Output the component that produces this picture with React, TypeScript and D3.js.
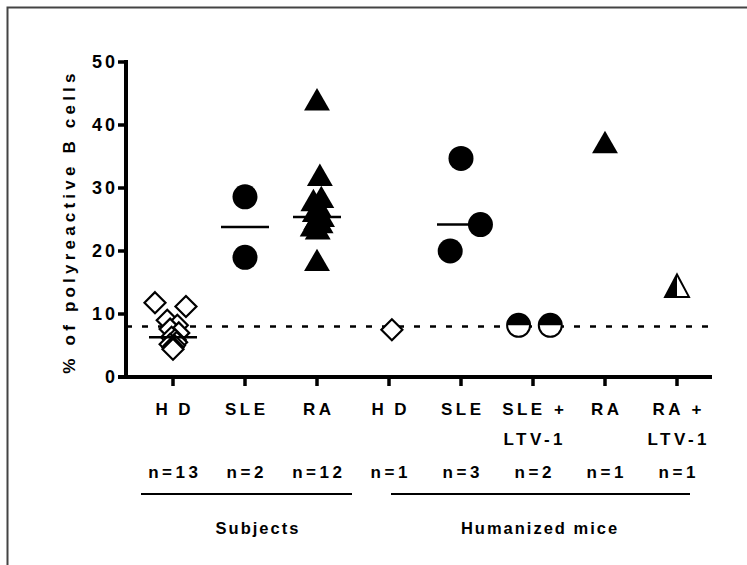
import * as d3 from "d3";
import React from "react";

// category keys, labels and counts
const categoryKeys = ["sHD", "sSLE", "sRA", "mHD", "mSLE", "mSLELTV", "mRA", "mRALTV"];
const labelLine1 = ["H\u2009D", "SLE", "RA", "H\u2009D", "SLE", "SLE +", "RA", "RA +"];
const labelLine2 = ["", "", "", "", "", "LTV-1", "", "LTV-1"];
const nLabels = ["n=13", "n=2", "n=12", "n=1", "n=3", "n=2", "n=1", "n=1"];
const yTicks = [0, 10, 20, 30, 40, 50];

// values per group (% polyreactive B cells)
const hdSubjects = [11.8, 11.2, 9.0, 8.2, 7.6, 7.0, 6.3, 5.9, 5.5, 5.2, 5.0, 4.7, 4.4];
const hdSubjectsJitter = [-0.25, 0.18, -0.08, 0.06, -0.04, 0.08, -0.02, 0.03, 0.05, -0.04, 0.02, 0.0, 0.0];
const sleSubjects = [28.6, 19.0];
const sleSubjectsJitter = [0, 0];
const raSubjects = [43.5, 31.5, 28.0, 27.5, 26.5, 25.8, 25.0, 24.5, 24.0, 23.5, 23.0, 18.0];
const raSubjectsJitter = [0, 0.04, 0.06, -0.05, 0.03, -0.03, 0.07, -0.01, 0.05, -0.06, 0.01, 0];
const hdMice = [7.5];
const hdMiceJitter = [0.04];
const sleMice = [34.7, 24.2, 20.0];
const sleMiceJitter = [0, 0.27, -0.15];
const sleLtvMice = [8.2, 8.2];
const sleLtvMiceJitter = [-0.2, 0.24];
const raMice = [36.7];
const raMiceJitter = [0];
const raLtvMice = [13.9];
const raLtvMiceJitter = [0];

const threshold = 8;

type Shape = "diamond" | "circle" | "triangle" | "halfCircle" | "halfTriangle";

const groups: { key: string; values: number[]; jitter: number[]; shape: Shape; line: boolean }[] = [
  { key: "sHD", values: hdSubjects, jitter: hdSubjectsJitter, shape: "diamond", line: true },
  { key: "sSLE", values: sleSubjects, jitter: sleSubjectsJitter, shape: "circle", line: true },
  { key: "sRA", values: raSubjects, jitter: raSubjectsJitter, shape: "triangle", line: true },
  { key: "mHD", values: hdMice, jitter: hdMiceJitter, shape: "diamond", line: false },
  { key: "mSLE", values: sleMice, jitter: sleMiceJitter, shape: "circle", line: true },
  { key: "mSLELTV", values: sleLtvMice, jitter: sleLtvMiceJitter, shape: "halfCircle", line: false },
  { key: "mRA", values: raMice, jitter: raMiceJitter, shape: "triangle", line: false },
  { key: "mRALTV", values: raLtvMice, jitter: raLtvMiceJitter, shape: "halfTriangle", line: false },
];

const font = "'Liberation Sans', Arial, sans-serif";

export default function App() {
  const width = 747;
  const height = 565;
  const axisLeft = 126;
  const axisRight = 712;

  const y = d3.scaleLinear().domain([0, 50]).range([377, 62]);
  const x = d3.scalePoint<string>().domain(categoryKeys).range([173, 677]);
  const step = x.step();

  const circleR = 12.5;
  const triSize = 290;
  const triSide = Math.sqrt((triSize * 4) / Math.sqrt(3));
  const triH = (triSide * Math.sqrt(3)) / 2;
  const diamondHalf = 11.5;

  const triangle = d3.symbol().type(d3.symbolTriangle).size(triSize)() as string;

  const marker = (shape: Shape, cx: number, cy: number, k: string) => {
    if (shape === "circle") return <circle key={k} cx={cx} cy={cy} r={circleR} fill="#000" />;
    if (shape === "triangle")
      return <path key={k} d={triangle} transform={`translate(${cx},${cy})`} fill="#000" />;
    if (shape === "diamond") {
      const h = diamondHalf - 1;
      return (
        <path
          key={k}
          d={`M${cx},${cy - h}L${cx + h},${cy}L${cx},${cy + h}L${cx - h},${cy}Z`}
          fill="#fff"
          stroke="#000"
          strokeWidth={2.2}
        />
      );
    }
    if (shape === "halfCircle") {
      const r = circleR - 1;
      return (
        <g key={k}>
          <circle cx={cx} cy={cy} r={r} fill="#fff" stroke="#000" strokeWidth={2} />
          <path d={`M${cx - r},${cy}A${r},${r} 0 0 1 ${cx + r},${cy}Z`} fill="#000" />
        </g>
      );
    }
    // half triangle: left half filled
    const top = cy - (triH * 2) / 3;
    const bot = cy + triH / 3;
    const hs = triSide / 2 - 1;
    return (
      <g key={k}>
        <path d={`M${cx},${top}L${cx + hs},${bot}L${cx - hs},${bot}Z`} fill="#fff" stroke="#000" strokeWidth={2} />
        <path d={`M${cx},${top}L${cx},${bot}L${cx - hs},${bot}Z`} fill="#000" />
      </g>
    );
  };

  const catFont = 17;
  const catSpacing = 3.5;

  return (
    <svg width={width} height={height} style={{ display: "block", position: "absolute", left: 0, top: 0 }}>
      <rect x={0} y={0} width={width} height={height} fill="#fff" />
      <rect x={7.5} y={7.5} width={width + 20} height={height + 20} fill="none" stroke="#444" strokeWidth={2} />

      {/* threshold */}
      <line
        x1={axisLeft}
        x2={axisRight}
        y1={y(threshold)}
        y2={y(threshold)}
        stroke="#000"
        strokeWidth={2.5}
        strokeDasharray="6,10"
      />

      {/* points */}
      {groups.map((g) =>
        g.values.map((v, i) => marker(g.shape, (x(g.key) as number) + g.jitter[i] * step, y(v), `${g.key}${i}`))
      )}

      {/* median lines */}
      {groups
        .filter((g) => g.line)
        .map((g) => {
          const m = d3.median(g.values) as number;
          const cx = x(g.key) as number;
          return (
            <line key={`m${g.key}`} x1={cx - 24} x2={cx + 24} y1={y(m)} y2={y(m)} stroke="#000" strokeWidth={2.5} />
          );
        })}

      {/* y axis */}
      <line x1={axisLeft} x2={axisLeft} y1={y(50) - 2} y2={y(0) + 2} stroke="#000" strokeWidth={4} />
      {yTicks.map((t) => (
        <g key={`yt${t}`}>
          <line x1={axisLeft - 8} x2={axisLeft} y1={y(t)} y2={y(t)} stroke="#000" strokeWidth={3.5} />
          <text
            x={axisLeft - 11 + 3}
            y={y(t)}
            dy="0.36em"
            textAnchor="end"
            fontFamily={font}
            fontWeight="bold"
            fontSize={18}
            letterSpacing={3}
          >
            {t}
          </text>
        </g>
      ))}
      <text
        transform={`translate(75,${(y(0) + y(50)) / 2 + 2}) rotate(-90)`}
        textAnchor="middle"
        fontFamily={font}
        fontWeight="bold"
        fontSize={17}
        letterSpacing={4.2}
      >
        % of polyreactive B cells
      </text>

      {/* x axis */}
      <line x1={axisLeft - 8} x2={axisRight} y1={y(0)} y2={y(0)} stroke="#000" strokeWidth={4} />
      {categoryKeys.map((k, i) => {
        const cx = (x(k) as number) + catSpacing / 2;
        return (
          <g key={`xt${k}`}>
            <line x1={cx - catSpacing / 2} x2={cx - catSpacing / 2} y1={y(0)} y2={y(0) + 9} stroke="#000" strokeWidth={3.5} />
            <text x={cx} y={415} textAnchor="middle" fontFamily={font} fontWeight="bold" fontSize={catFont} letterSpacing={catSpacing}>
              {labelLine1[i]}
            </text>
            {labelLine2[i] && (
              <text x={cx} y={445} textAnchor="middle" fontFamily={font} fontWeight="bold" fontSize={catFont} letterSpacing={catSpacing}>
                {labelLine2[i]}
              </text>
            )}
            <text x={cx} y={478} textAnchor="middle" fontFamily={font} fontWeight="bold" fontSize={catFont} letterSpacing={catSpacing}>
              {nLabels[i]}
            </text>
          </g>
        );
      })}

      {/* group brackets */}
      <line x1={141} x2={352} y1={494} y2={494} stroke="#000" strokeWidth={2} />
      <line x1={391} x2={690} y1={494} y2={494} stroke="#000" strokeWidth={2} />
      <text x={258} y={534} textAnchor="middle" fontFamily={font} fontWeight="bold" fontSize={16.5} letterSpacing={2}>
        Subjects
      </text>
      <text x={540} y={534} textAnchor="middle" fontFamily={font} fontWeight="bold" fontSize={16.5} letterSpacing={2}>
        Humanized mice
      </text>
    </svg>
  );
}
